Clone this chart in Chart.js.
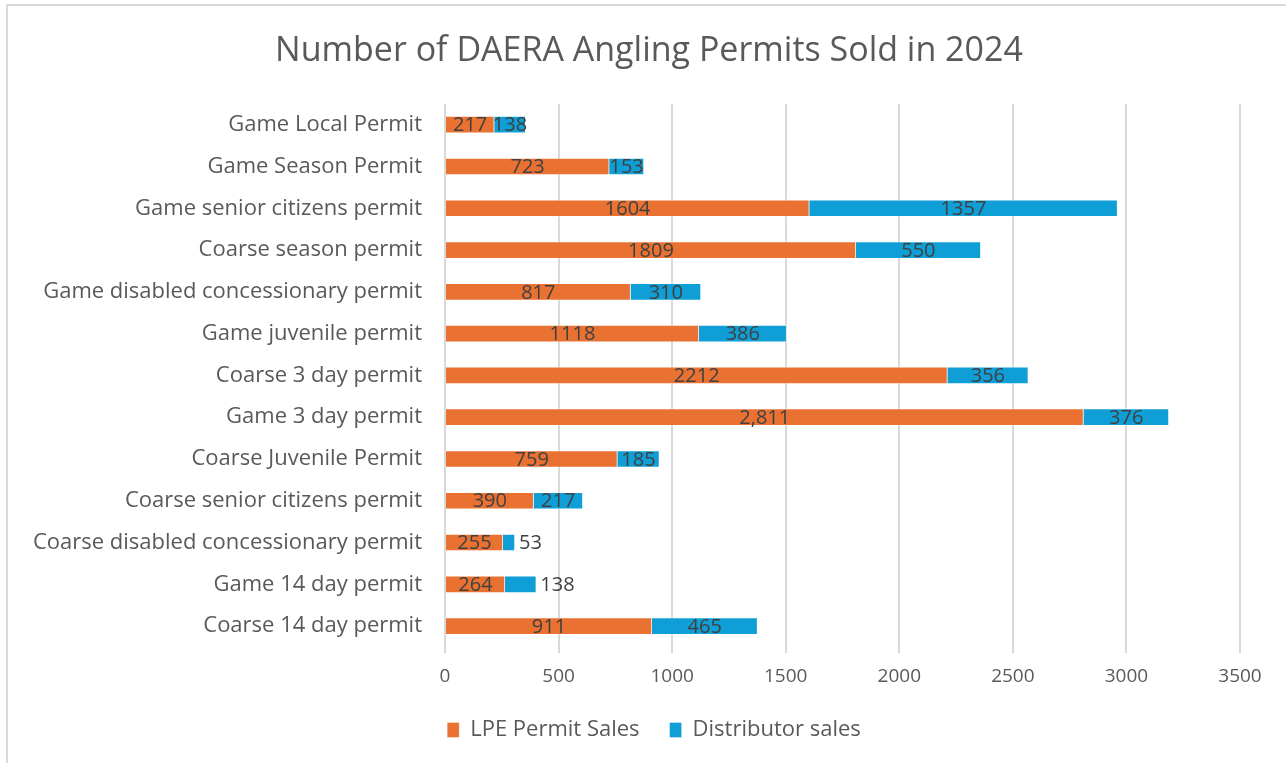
<!DOCTYPE html>
<html>
<head>
<meta charset="utf-8">
<script src="https://cdn.jsdelivr.net/npm/chart.js@4.4.1/dist/chart.umd.min.js"></script>
<style>
  html, body { margin: 0; padding: 0; background: #fff; }
  #wrap { position: relative; width: 1286px; height: 763px; overflow: hidden; }
  #frame { position: absolute; left: 6px; top: 4px; width: 1300px; height: 800px;
           border-left: 2px solid #d9d9d9; border-top: 2px solid #d9d9d9; box-sizing: border-box; }
  canvas { position: absolute; left: 0; top: 0; }
</style>
</head>
<body>
<div id="wrap">
  <div id="frame"></div>
  <canvas id="c" width="1286" height="763"></canvas>
</div>
<script>
const categories = [
  "Game Local Permit",
  "Game Season Permit",
  "Game senior citizens permit",
  "Coarse season permit",
  "Game disabled concessionary permit",
  "Game juvenile permit",
  "Coarse 3 day permit",
  "Game 3 day permit",
  "Coarse Juvenile Permit",
  "Coarse senior citizens permit",
  "Coarse disabled concessionary permit",
  "Game 14 day permit",
  "Coarse 14 day permit"
];
const lpeSales = [217, 723, 1604, 1809, 817, 1118, 2212, 2811, 759, 390, 255, 264, 911];
const distributorSales = [138, 153, 1357, 550, 310, 386, 356, 376, 185, 217, 53, 138, 465];
const lpeLabels = ["217", "723", "1604", "1809", "817", "1118", "2212", "2,811", "759", "390", "255", "264", "911"];
const distributorLabels = ["138", "153", "1357", "550", "310", "386", "356", "376", "185", "217", "53", "138", "465"];
const distributorLabelOutside = [false, false, false, false, false, false, false, false, false, false, true, true, false];
const xTicks = [0, 500, 1000, 1500, 2000, 2500, 3000, 3500];

const FONT = "'Open Sans', 'DejaVu Sans', sans-serif";
const TEXT = '#595959';

const dataLabels = {
  id: 'dataLabels',
  afterDatasetsDraw(chart) {
    const ctx = chart.ctx;
    ctx.save();
    ctx.font = '20px ' + FONT;
    ctx.fillStyle = '#404040';
    ctx.textBaseline = 'middle';
    chart.data.datasets.forEach((ds, di) => {
      const meta = chart.getDatasetMeta(di);
      meta.data.forEach((bar, i) => {
        const txt = ds.valueLabels[i];
        if (di === 1 && distributorLabelOutside[i]) {
          ctx.textAlign = 'left';
          ctx.fillText(txt, bar.x + 4, bar.y + 1);
        } else {
          ctx.textAlign = 'center';
          ctx.fillText(txt, (bar.x + bar.base) / 2, bar.y + 1);
        }
      });
    });
    ctx.restore();
  }
};

// shift the title and bottom legend so they are centred like the original
const boxShift = {
  id: 'boxShift',
  afterLayout(chart) {
    if (chart.legend) { chart.legend.left += 34; chart.legend.right += 34; }
    if (chart.titleBlock) { chart.titleBlock.left += 29; chart.titleBlock.right += 29; }
  }
};

new Chart(document.getElementById('c'), {
  type: 'bar',
  data: {
    labels: categories,
    datasets: [
      { label: 'LPE Permit Sales', data: lpeSales, valueLabels: lpeLabels,
        backgroundColor: '#E97132', borderColor: 'rgba(255,255,255,0.35)', borderWidth: 1, barThickness: 17 },
      { label: 'Distributor sales', data: distributorSales, valueLabels: distributorLabels,
        backgroundColor: '#0F9ED5', borderColor: 'rgba(255,255,255,0.35)', borderWidth: 1, barThickness: 17 }
    ]
  },
  options: {
    indexAxis: 'y',
    responsive: false,
    animation: false,
    devicePixelRatio: 1,
    layout: { padding: { left: 0, right: 46, top: 0, bottom: 12 } },
    scales: {
      x: {
        stacked: true,
        min: 0, max: 3500,
        afterBuildTicks(scale) { scale.ticks = xTicks.map(v => ({ value: v })); },
        grid: { color: '#d9d9d9', lineWidth: 2, tickLength: 6, drawTicks: true },
        border: { display: false },
        ticks: { color: TEXT, font: { family: FONT, size: 19 }, padding: 12,
                 callback: (v) => String(v) },
        afterFit(scale) { scale.height = 42; }
      },
      y: {
        stacked: true,
        grid: { display: false, drawTicks: false },
        border: { display: false },
        ticks: { color: TEXT, font: { family: FONT, size: 22 }, padding: 23, autoSkip: false },
        afterFit(scale) { scale.width = 445; }
      }
    },
    plugins: {
      title: {
        display: true,
        text: 'Number of DAERA Angling Permits Sold in 2024',
        color: TEXT,
        font: { family: FONT, size: 34, weight: 'normal' },
        padding: { top: 31, bottom: 32 }
      },
      legend: {
        position: 'bottom',
        labels: {
          color: TEXT,
          font: { family: FONT, size: 22 },
          boxWidth: 12, boxHeight: 15,
          padding: 30
        }
      },
      tooltip: { enabled: false }
    }
  },
  plugins: [dataLabels, boxShift]
});
</script>
</body>
</html>
